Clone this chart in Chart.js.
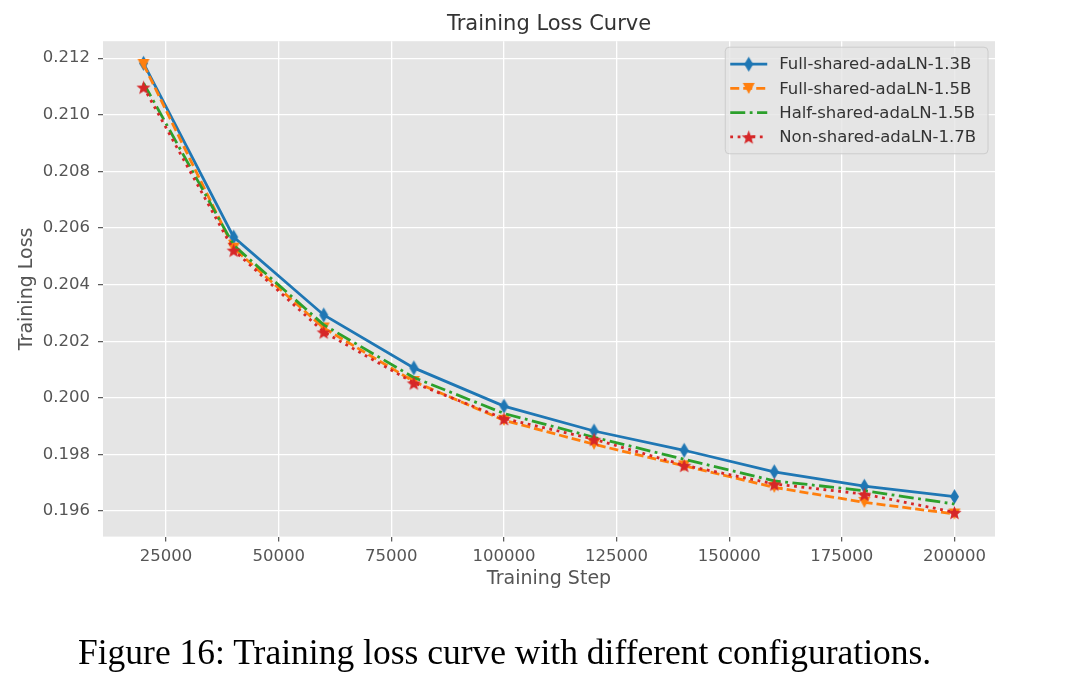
<!DOCTYPE html>
<html lang="en">

<head>
    <script src="https://cdn.jsdelivr.net/npm/chart.js@4.4.1/dist/chart.umd.min.js"></script>
    <title> Training Loss Curve </title>
    <style>
        body { margin: 0; background: #fff; }
        #wrap { position: relative; width: 1080px; height: 688px; }
        canvas { position: absolute; left: 0; top: 0; }
        #caption {
            position: absolute; left: 78px; top: 631px;
            font-family: "Liberation Serif", "Times New Roman", serif;
            font-size: 35.5px; color: #000; white-space: nowrap;
        }
    </style>
</head>

<body>
    <div id="wrap">
        <canvas id="chart" width="1080" height="688"></canvas>
        <div id="caption">Figure 16: Training loss curve with different configurations.</div>
    </div>

    <script>
        // values
        const steps = [20000, 40000, 60000, 80000, 100000, 120000, 140000, 160000, 180000, 200000];
        const fullShared13 = [0.21182, 0.20568, 0.20293, 0.20106, 0.19971, 0.19883, 0.19815, 0.19739, 0.19688, 0.19651];
        const fullShared15 = [0.21178, 0.20529, 0.20247, 0.20058, 0.19921, 0.19836, 0.19760, 0.19684, 0.19631, 0.19590];
        const halfShared15 = [0.21112, 0.20539, 0.20258, 0.20072, 0.19945, 0.19861, 0.19783, 0.19707, 0.19672, 0.19625];
        const nonShared17 = [0.21098, 0.20522, 0.20233, 0.20053, 0.19927, 0.19854, 0.19762, 0.19696, 0.19660, 0.19596];

        const seriesLabels = ["Full-shared-adaLN-1.3B", "Full-shared-adaLN-1.5B", "Half-shared-adaLN-1.5B", "Non-shared-adaLN-1.7B"];
        const xTicks = [25000, 50000, 75000, 100000, 125000, 150000, 175000, 200000];
        const yTicks = [0.196, 0.198, 0.200, 0.202, 0.204, 0.206, 0.208, 0.210, 0.212];

        const FONT = "'DejaVu Sans', sans-serif";

        // small canvases used as point markers
        function makeMarker(shape, color, w, h) {
            const c = document.createElement("canvas");
            c.width = w + 2;
            c.height = h + 2;
            const g = c.getContext("2d");
            const cx = c.width / 2, cy = c.height / 2;
            g.fillStyle = color;
            g.beginPath();
            if (shape === "diamond") {
                g.moveTo(cx, cy - h / 2);
                g.lineTo(cx + w / 2, cy);
                g.lineTo(cx, cy + h / 2);
                g.lineTo(cx - w / 2, cy);
            } else if (shape === "tridown") {
                g.moveTo(cx - w / 2, cy - h / 2);
                g.lineTo(cx + w / 2, cy - h / 2);
                g.lineTo(cx, cy + h / 2);
            } else if (shape === "star") {
                const R = w / 2, r = R * 0.42;
                for (let i = 0; i < 10; i++) {
                    const a = -Math.PI / 2 + i * Math.PI / 5;
                    const rr = i % 2 === 0 ? R : r;
                    g.lineTo(cx + rr * Math.cos(a), cy + rr * Math.sin(a) + 1);
                }
            }
            g.closePath();
            g.fill();
            return c;
        }

        const diamond = makeMarker("diamond", "#1f77b4", 9, 15);
        const triDown = makeMarker("tridown", "#ff7f0e", 12, 11);
        const star = makeMarker("star", "#d62728", 15, 15);

        function pts(vals) {
            return steps.map((s, i) => ({ x: s, y: vals[i] }));
        }

        const bgPlugin = {
            id: "ggplotBg",
            beforeDraw(chart) {
                const { ctx, chartArea: a } = chart;
                ctx.save();
                ctx.fillStyle = "#ffffff";
                ctx.fillRect(0, 0, chart.width, chart.height);
                ctx.fillStyle = "#e5e5e5";
                ctx.fillRect(a.left, a.top, a.right - a.left, a.bottom - a.top);
                ctx.restore();
            }
        };

        // matplotlib style legend inside the axes, upper right
        const legendPlugin = {
            id: "innerLegend",
            afterDatasetsDraw(chart) {
                const { ctx, chartArea: a } = chart;
                const ds = chart.data.datasets;
                const right = a.right - 7, top = a.top + 6;
                const rowH = 24.2;
                ctx.save();
                ctx.font = "16.5px " + FONT;
                let maxW = 0;
                ds.forEach(d => { maxW = Math.max(maxW, ctx.measureText(d.label).width); });
                const w = 5 + 37 + 12 + maxW + 12;
                const h = 17 * 2 + rowH * (ds.length - 1);
                const left = right - w;

                ctx.fillStyle = "rgba(229,229,229,0.8)";
                ctx.strokeStyle = "#cccccc";
                ctx.lineWidth = 1;
                ctx.beginPath();
                ctx.roundRect(left, top, w, h, 4);
                ctx.fill();
                ctx.stroke();

                ds.forEach((d, i) => {
                    const y = top + 17 + i * rowH;
                    const x0 = left + 5, x1 = x0 + 37;
                    ctx.strokeStyle = d.borderColor;
                    ctx.lineWidth = d.borderWidth;
                    ctx.setLineDash(d.borderDash || []);
                    ctx.beginPath();
                    ctx.moveTo(x0, y);
                    ctx.lineTo(x1, y);
                    ctx.stroke();
                    ctx.setLineDash([]);
                    if (d.pointRadius > 0 && d.pointStyle) {
                        const m = d.pointStyle;
                        ctx.drawImage(m, (x0 + x1) / 2 - m.width / 2, y - m.height / 2);
                    }
                    ctx.fillStyle = "#333333";
                    ctx.textBaseline = "middle";
                    ctx.textAlign = "left";
                    ctx.fillText(d.label, x1 + 12, y + 1);
                });
                ctx.restore();
            }
        };

        const ctx = document.getElementById("chart").getContext("2d");

        new Chart(ctx, {
            type: "line",
            data: {
                datasets: [
                    {
                        label: seriesLabels[0], data: pts(fullShared13),
                        borderColor: "#1f77b4", borderWidth: 2.8,
                        pointStyle: diamond, pointRadius: 5, order: 4
                    },
                    {
                        label: seriesLabels[1], data: pts(fullShared15),
                        borderColor: "#ff7f0e", borderWidth: 2.8, borderDash: [9, 4],
                        pointStyle: triDown, pointRadius: 5, order: 3
                    },
                    {
                        label: seriesLabels[2], data: pts(halfShared15),
                        borderColor: "#2ca02c", borderWidth: 2.8, borderDash: [15, 4.5, 2.8, 4.5],
                        pointRadius: 0, order: 2
                    },
                    {
                        label: seriesLabels[3], data: pts(nonShared17),
                        borderColor: "#d62728", borderWidth: 2.8, borderDash: [2.8, 4.6],
                        pointStyle: star, pointRadius: 5, order: 1
                    }
                ]
            },
            options: {
                responsive: false,
                animation: false,
                layout: { padding: { top: 6, left: 12, right: 85, bottom: 96 } },
                elements: { line: { tension: 0, fill: false } },
                plugins: {
                    legend: { display: false },
                    tooltip: { enabled: false },
                    title: {
                        display: true,
                        text: "Training Loss Curve",
                        fullSize: false,
                        color: "#333333",
                        font: { family: FONT, size: 21, weight: "normal" },
                        padding: { top: 6, bottom: 4 }
                    }
                },
                scales: {
                    x: {
                        type: "linear",
                        min: 11000,
                        max: 209000,
                        afterBuildTicks: s => { s.ticks = xTicks.map(v => ({ value: v })); },
                        afterFit: s => { s.height = 55.4; },
                        border: { display: false },
                        grid: { color: "#ffffff", lineWidth: 1.3, tickColor: "#555555", tickLength: 5, tickWidth: 1.2 },
                        ticks: {
                            color: "#555555", padding: 5, maxRotation: 0,
                            font: { family: FONT, size: 16.5 },
                            callback: v => String(v)
                        },
                        title: {
                            display: true, text: "Training Step", color: "#555555",
                            font: { family: FONT, size: 19 }, padding: { top: 2, bottom: 2 }
                        }
                    },
                    y: {
                        min: 0.1951,
                        max: 0.2126,
                        afterBuildTicks: s => { s.ticks = yTicks.map(v => ({ value: v })); },
                        afterFit: s => { s.width = 91; },
                        border: { display: false },
                        grid: { color: "#ffffff", lineWidth: 1.3, tickColor: "#555555", tickLength: 5, tickWidth: 1.2 },
                        ticks: {
                            color: "#555555", padding: 8,
                            font: { family: FONT, size: 16.5 },
                            callback: v => v.toFixed(3)
                        },
                        title: {
                            display: true, text: "Training Loss", color: "#555555",
                            font: { family: FONT, size: 19 }, padding: { top: 4, bottom: 2 }
                        }
                    }
                }
            },
            plugins: [bgPlugin, legendPlugin]
        });
    </script>
</body>

</html>
